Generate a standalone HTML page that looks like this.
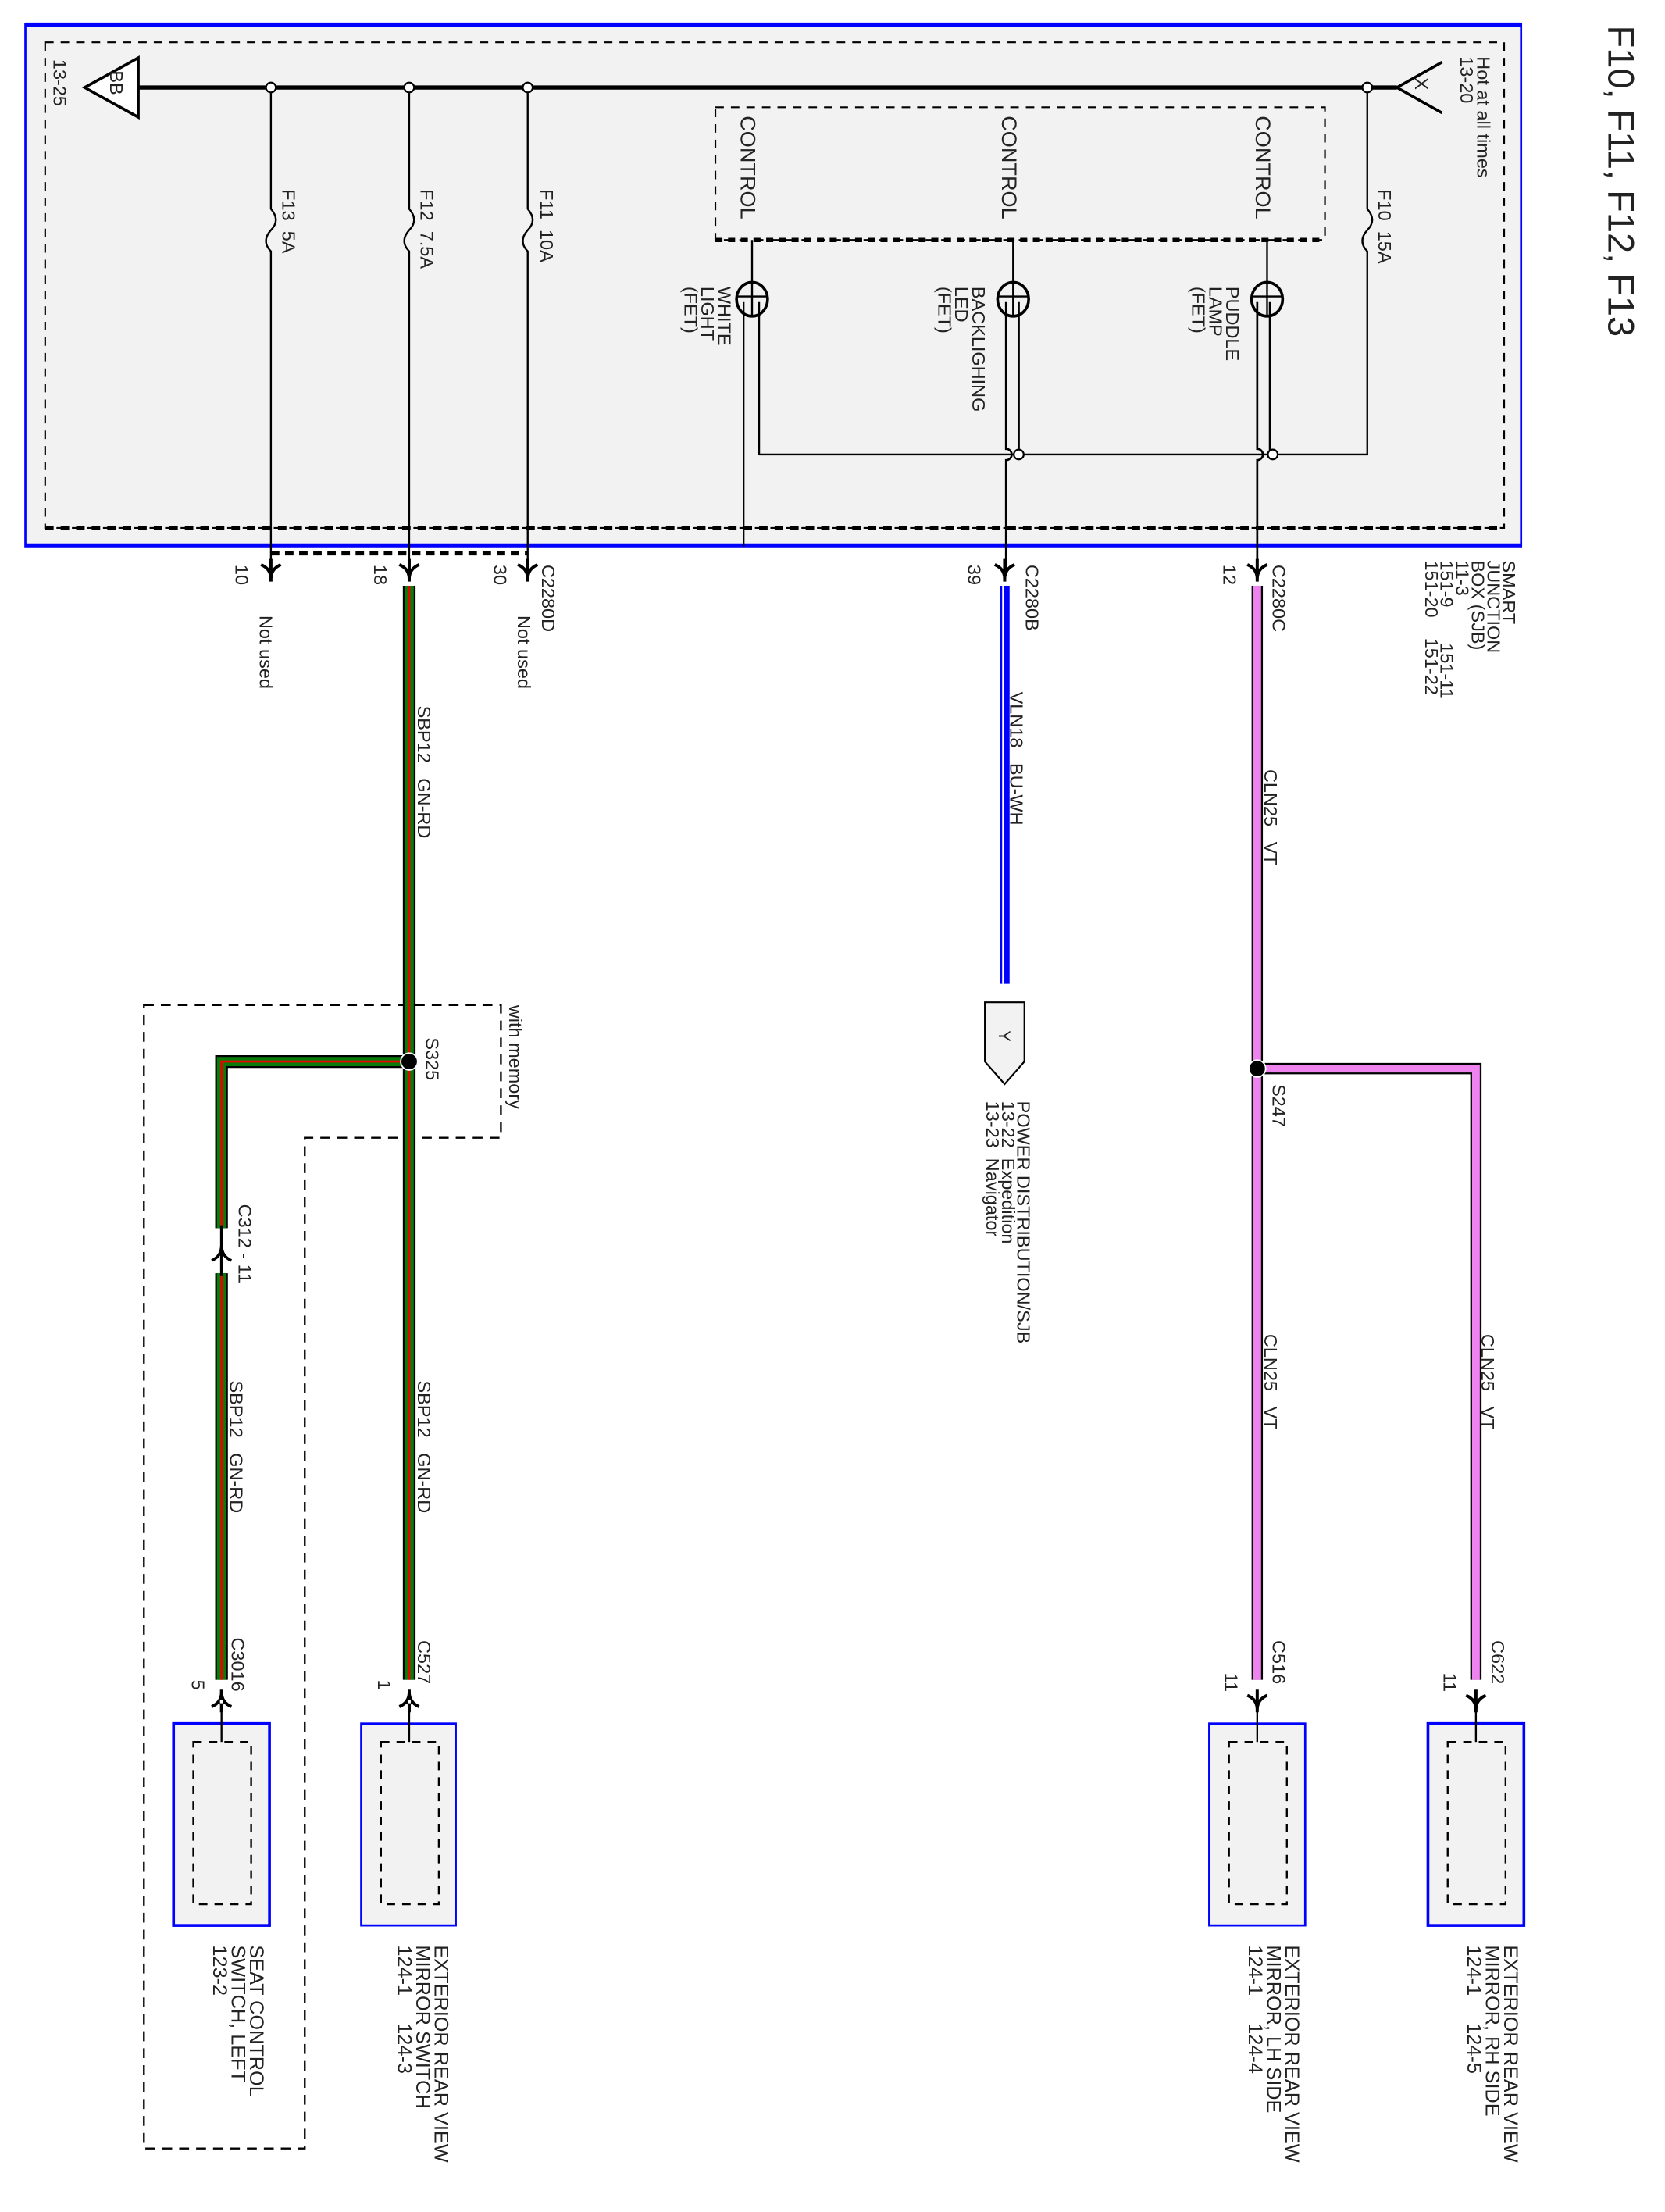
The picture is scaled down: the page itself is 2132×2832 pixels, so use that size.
<!DOCTYPE html>
<html><head><meta charset="utf-8"><style>html,body{margin:0;padding:0;background:#fff}svg{display:block}text{font-family:"Liberation Sans",sans-serif;fill:#222;white-space:pre}</style></head>
<body>
<svg width="2132" height="2832" viewBox="0 0 1180 1567" preserveAspectRatio="none" xmlns="http://www.w3.org/2000/svg" xml:space="preserve">
<defs>
<g id="cd"><path d="M0,-8 V8 M-7,-4 Q0,-1 0,6 Q0,-1 7,-4" fill="none" stroke="#000" stroke-width="2.2"/></g>
<g id="cu"><path d="M0,-8 V8 M-7,4 Q0,1 0,-6 Q0,1 7,4" fill="none" stroke="#000" stroke-width="2.2"/><rect x="-1.5" y="-1" width="3" height="3" fill="#fff" stroke="#000" stroke-width="0.8"/></g>
</defs>
<rect x="18" y="17" width="1060" height="370" fill="#f2f2f2" stroke="#0000ff" stroke-width="1.5"/>
<line x1="18" y1="17.5" x2="1078" y2="17.5" stroke="#0000ff" stroke-width="3"/>
<line x1="18" y1="386" x2="1078" y2="386" stroke="#0000ff" stroke-width="2"/>
<rect x="32" y="30" width="1034" height="344" fill="none" stroke="#000" stroke-width="1.2" stroke-dasharray="6,5"/>
<line x1="32" y1="374" x2="1066" y2="374" stroke="#000" stroke-width="3" stroke-dasharray="6,5"/>
<line x1="98" y1="62" x2="990" y2="62" stroke="#000" stroke-width="3"/>
<polygon points="98,41 98,83 60,62" fill="#fff" stroke="#000" stroke-width="2"/>
<text transform="translate(78,50) rotate(90)" font-size="13">BB</text>
<text transform="translate(38,42) rotate(90)" font-size="13">13-25</text>
<line x1="990" y1="62" x2="1022" y2="44" stroke="#000" stroke-width="2"/><line x1="990" y1="62" x2="1022" y2="80" stroke="#000" stroke-width="2"/>
<text transform="translate(1003,55) rotate(90)" font-size="13">X</text>
<text transform="translate(1047,40) rotate(90)" font-size="13">Hot at all times</text>
<text transform="translate(1035,40) rotate(90)" font-size="13">13-20</text>
<g fill="#fff" stroke="#000" stroke-width="1.2"><circle cx="192" cy="62" r="3.5"/><circle cx="290" cy="62" r="3.5"/><circle cx="374" cy="62" r="3.5"/><circle cx="969" cy="62" r="3.5"/></g>
<g fill="none" stroke="#000" stroke-width="1.3">
<path d="M192,66 V148 q7,8 0,15 q-7,8 0,15 V404"/>
<path d="M290,66 V148 q7,8 0,15 q-7,8 0,15 V404"/>
<path d="M374,66 V148 q7,8 0,15 q-7,8 0,15 V404"/>
<path d="M969,66 V148 q7,8 0,15 q-7,8 0,15 V322 H538"/>
</g>
<text transform="translate(200,134) rotate(90)" font-size="13">F13  5A</text>
<text transform="translate(298,134) rotate(90)" font-size="13">F12  7.5A</text>
<text transform="translate(383,134) rotate(90)" font-size="13">F11  10A</text>
<text transform="translate(977,134) rotate(90)" font-size="13">F10  15A</text>
<line x1="192" y1="392" x2="374" y2="392" stroke="#000" stroke-width="3" stroke-dasharray="6,4"/>
<rect x="507" y="76" width="432" height="94" fill="none" stroke="#000" stroke-width="1.2" stroke-dasharray="6,5"/>
<line x1="507" y1="170" x2="939" y2="170" stroke="#000" stroke-width="3" stroke-dasharray="5,4"/>
<text transform="translate(525,82) rotate(90)" font-size="15">CONTROL</text>
<text transform="translate(710,82) rotate(90)" font-size="15">CONTROL</text>
<text transform="translate(890,82) rotate(90)" font-size="15">CONTROL</text>
<g fill="none" stroke="#000" stroke-width="1.3">
<line x1="533" y1="170" x2="533" y2="200"/><line x1="718" y1="170" x2="718" y2="200"/><line x1="898" y1="170" x2="898" y2="200"/>
<g stroke-width="2"><ellipse cx="533" cy="212" rx="11" ry="12"/><ellipse cx="718" cy="212" rx="11" ry="12"/><ellipse cx="898" cy="212" rx="11" ry="12"/></g>
<path d="M522,210 H544 M533,200 V224 M707,210 H729 M898,200 V224 M887,210 H909 M718,200 V224"/>
<path d="M527,214 V387 M538,214 V322"/>
<path d="M713,214 V318 a4,4 0 0 1 0,8 V404 M722,214 V322" stroke-width="1.5"/>
<path d="M891,214 V318 a4,4 0 0 1 0,8 V404 M900,214 V322" stroke-width="1.5"/>
</g>
<g fill="#fff" stroke="#000" stroke-width="1.2"><circle cx="722" cy="322" r="3.5"/><circle cx="902" cy="322" r="3.5"/></g>
<text font-size="13" transform="translate(509,203) rotate(90)">WHITE<tspan x="0" dy="12">LIGHT</tspan><tspan x="0" dy="12">(FET)</tspan></text>
<text font-size="13" transform="translate(689,203) rotate(90)">BACKLIGHING<tspan x="0" dy="12">LED</tspan><tspan x="0" dy="12">(FET)</tspan></text>
<text font-size="13" transform="translate(869,203) rotate(90)">PUDDLE<tspan x="0" dy="12">LAMP</tspan><tspan x="0" dy="12">(FET)</tspan></text>
<text transform="translate(1140,18) rotate(90)" font-size="26" fill="#333">F10, F11, F12, F13</text>
<use href="#cd" x="192" y="404"/><use href="#cd" x="290" y="404"/><use href="#cd" x="374" y="404"/><use href="#cd" x="712" y="404"/><use href="#cd" x="891" y="404"/>
<text transform="translate(167,400) rotate(90)" font-size="13">10</text>
<text transform="translate(184,436) rotate(90)" font-size="13">Not used</text>
<text transform="translate(265,400) rotate(90)" font-size="13">18</text>
<text transform="translate(350,400) rotate(90)" font-size="13">30</text>
<text transform="translate(384,400) rotate(90)" font-size="13">C2280D</text>
<text transform="translate(367,436) rotate(90)" font-size="13">Not used</text>
<text transform="translate(686,400) rotate(90)" font-size="13">39</text>
<text transform="translate(727,400) rotate(90)" font-size="13">C2280B</text>
<text transform="translate(867,400) rotate(90)" font-size="13">12</text>
<text transform="translate(902,400) rotate(90)" font-size="13">C2280C</text>
<text font-size="13" transform="translate(1065,397) rotate(90)">SMART<tspan x="0" dy="11">JUNCTION</tspan><tspan x="0" dy="11">BOX (SJB)</tspan><tspan x="0" dy="11">11-3</tspan><tspan x="0" dy="11">151-9       151-11</tspan><tspan x="0" dy="11">151-20    151-22</tspan></text>
<path d="M102,712 H355 V806 H216 V1522 H102 Z" fill="none" stroke="#000" stroke-width="1.3" stroke-dasharray="7,5"/>
<text transform="translate(361,712) rotate(90)" font-size="13">with memory</text>
<g fill="none" stroke-linejoin="miter">
<path d="M290,415 V1190 M290,752 H157 V870 M157,902 V1190" stroke="#000" stroke-width="9"/>
<path d="M290,415 V1190 M290,752 H157 V870 M157,902 V1190" stroke="#0a7a0a" stroke-width="6.5"/>
<path d="M290,415 V1190 M290,752 H157 V870 M157,902 V1190" stroke="#e00" stroke-width="1.5"/>
</g>
<circle cx="290" cy="752" r="6" fill="#000" stroke="#fff" stroke-width="1"/>
<text transform="translate(302,735) rotate(90)" font-size="13">S325</text>
<path d="M157,868 V904 M150,893 Q157,890 157,882 Q157,890 164,893" fill="none" stroke="#000" stroke-width="2"/>
<text transform="translate(169,853) rotate(90)" font-size="13">C312 - 11</text>
<text transform="translate(296,500) rotate(90)" font-size="13">SBP12   GN-RD</text>
<text transform="translate(296,978) rotate(90)" font-size="13">SBP12   GN-RD</text>
<text transform="translate(163,978) rotate(90)" font-size="13">SBP12   GN-RD</text>
<text transform="translate(164,1160) rotate(90)" font-size="13">C3016</text>
<text transform="translate(136,1190) rotate(90)" font-size="13">5</text>
<text transform="translate(296,1162) rotate(90)" font-size="13">C527</text>
<text transform="translate(268,1190) rotate(90)" font-size="13">1</text>
<line x1="712" y1="415" x2="712" y2="697" stroke="#0000ff" stroke-width="7"/>
<line x1="711" y1="415" x2="711" y2="697" stroke="#fff" stroke-width="1.5"/>
<text transform="translate(716,490) rotate(90)" font-size="13">VLN18   BU-WH</text>
<polygon points="698,710 726,710 726,752 712,768 698,752" fill="#f2f2f2" stroke="#000" stroke-width="1.2"/>
<text transform="translate(708,730) rotate(90)" font-size="12">Y</text>
<text font-size="13" transform="translate(721,780) rotate(90)">POWER DISTRIBUTION/SJB<tspan x="0" dy="11">13-22  Expedition</tspan><tspan x="0" dy="11">13-23  Navigator</tspan></text>
<path d="M891,415 V1190 M891,757 H1046 V1190" fill="none" stroke="#000" stroke-width="8"/>
<path d="M891,415 V1190 M891,757 H1046 V1190" fill="none" stroke="#ee82ee" stroke-width="5.5"/>
<circle cx="891" cy="757" r="6" fill="#000" stroke="#fff" stroke-width="1"/>
<text transform="translate(902,768) rotate(90)" font-size="13">S247</text>
<text transform="translate(896,545) rotate(90)" font-size="13">CLN25   VT</text>
<text transform="translate(896,945) rotate(90)" font-size="13">CLN25   VT</text>
<text transform="translate(1050,945) rotate(90)" font-size="13">CLN25   VT</text>
<text transform="translate(902,1162) rotate(90)" font-size="13">C516</text>
<text transform="translate(868,1185) rotate(90)" font-size="13">11</text>
<text transform="translate(1057,1162) rotate(90)" font-size="13">C622</text>
<text transform="translate(1023,1185) rotate(90)" font-size="13">11</text>
<use href="#cu" x="157" y="1205"/><use href="#cu" x="290" y="1205"/>
<use href="#cd" x="891" y="1205"/><use href="#cd" x="1046" y="1205"/>
<g>
<rect x="123" y="1221" width="68" height="143" fill="#f2f2f2" stroke="#0000ff" stroke-width="2"/>
<rect x="256" y="1221" width="67" height="143" fill="#f2f2f2" stroke="#0000ff" stroke-width="1.5"/>
<rect x="857" y="1221" width="68" height="143" fill="#f2f2f2" stroke="#0000ff" stroke-width="1.5"/>
<rect x="1012" y="1221" width="68" height="143" fill="#f2f2f2" stroke="#0000ff" stroke-width="2"/>
<g fill="none" stroke="#000" stroke-width="1.3" stroke-dasharray="6,5">
<rect x="137" y="1234" width="41" height="115"/>
<rect x="270" y="1234" width="41" height="115"/>
<rect x="871" y="1234" width="41" height="115"/>
<rect x="1026" y="1234" width="41" height="115"/>
</g>
<g stroke="#000" stroke-width="1.3"><line x1="157" y1="1212" x2="157" y2="1234"/><line x1="290" y1="1212" x2="290" y2="1234"/><line x1="891" y1="1212" x2="891" y2="1234"/><line x1="1046" y1="1212" x2="1046" y2="1234"/></g>
</g>
<text font-size="14" transform="translate(177,1378) rotate(90)">SEAT CONTROL<tspan x="0" dy="13">SWITCH, LEFT</tspan><tspan x="0" dy="13">123-2</tspan></text>
<text font-size="14" transform="translate(308,1378) rotate(90)">EXTERIOR REAR VIEW<tspan x="0" dy="13">MIRROR SWITCH</tspan><tspan x="0" dy="13">124-1     124-3</tspan></text>
<text font-size="14" transform="translate(911,1378) rotate(90)">EXTERIOR REAR VIEW<tspan x="0" dy="13">MIRROR, LH SIDE</tspan><tspan x="0" dy="13">124-1     124-4</tspan></text>
<text font-size="14" transform="translate(1066,1378) rotate(90)">EXTERIOR REAR VIEW<tspan x="0" dy="13">MIRROR, RH SIDE</tspan><tspan x="0" dy="13">124-1     124-5</tspan></text>
</svg>
</body></html>
